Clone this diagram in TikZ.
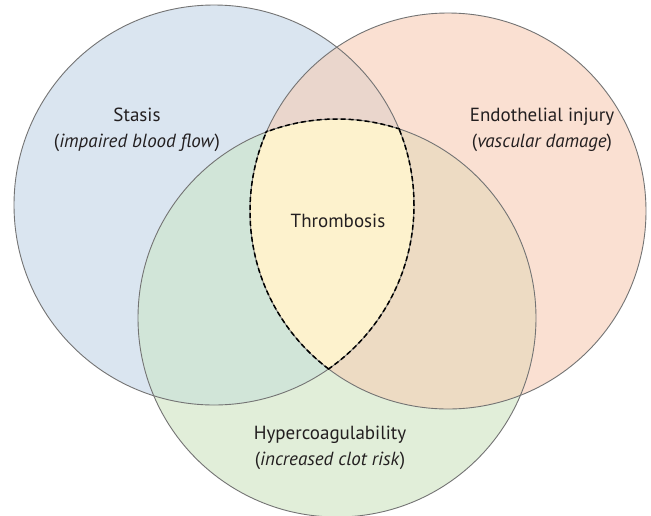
\documentclass[tikz,border=0pt]{standalone}
\usepackage{fontspec}
\setmainfont{PT Sans}
\definecolor{stasisfill}{HTML}{DAE5F0}
\definecolor{injuryfill}{HTML}{FAE0D2}
\definecolor{hyperfill}{HTML}{E1EED9}
\definecolor{stasishyper}{HTML}{D1E5D8}
\definecolor{injuryhyper}{HTML}{EDDBC3}
\definecolor{stasisinjury}{HTML}{EAD6CC}
\definecolor{thrombfill}{HTML}{FDF2CD}
\definecolor{ringgray}{HTML}{737373}
\definecolor{textgray}{HTML}{231F20}
\tikzset{ring/.style={draw=ringgray, line width=0.9pt},
  vennlabel/.style={align=center, text=textgray, font=\fontsize{19}{26}\selectfont, inner sep=0pt},
  coreline/.style={black, line width=1.5pt, dash pattern=on 5pt off 3pt}}

\begin{document}
\begin{tikzpicture}[x=1pt,y=-1pt]
  \useasboundingbox[fill=white] (0,0) rectangle (651,515);
  \coordinate (S) at (214,205);
  \coordinate (E) at (448,211);
  \coordinate (H) at (337,318);
  \fill[stasisfill]  (S) circle[radius=200pt];
  \fill[injuryfill]  (E) circle[radius=198pt];
  \fill[hyperfill]   (H) circle[radius=199pt];
  \begin{scope}
   \clip (S) circle[radius=200pt];
   \fill[stasishyper] (H) circle[radius=199pt];
   \fill[stasisinjury] (E) circle[radius=198pt];
  \end{scope}
  \begin{scope}
   \clip (E) circle[radius=198pt];
   \fill[injuryhyper] (H) circle[radius=199pt];
  \end{scope}
  \begin{scope}
   \clip (S) circle[radius=200pt];
   \clip (E) circle[radius=198pt];
   \fill[thrombfill] (H) circle[radius=199pt];
  \end{scope}
  \draw[ring] (S) circle[radius=200pt];
  \draw[ring] (E) circle[radius=198pt];
  \draw[ring] (H) circle[radius=199pt];
  \begin{scope}
   \clip (S) circle[radius=201pt];
   \clip (E) circle[radius=199pt];
   \draw[coreline] (H) circle[radius=199pt];
  \end{scope}
  \begin{scope}
   \clip (S) circle[radius=201pt];
   \clip (H) circle[radius=200pt];
   \draw[coreline] (E) circle[radius=198pt];
  \end{scope}
  \begin{scope}
   \clip (E) circle[radius=199pt];
   \clip (H) circle[radius=200pt];
   \draw[coreline] (S) circle[radius=200pt];
  \end{scope}
  \node[vennlabel] (stasis) at (137,130) {Stasis\\(\textit{impaired blood flow})};
  \node[vennlabel] (injury) at (542,130) {Endothelial injury\\(\textit{vascular damage})};
  \node[vennlabel] (hyper)  at (330,448) {Hypercoagulability\\(\textit{increased clot risk})};
  \node[vennlabel] (thromb) at (338,221) {Thrombosis};
\end{tikzpicture}
\end{document}
